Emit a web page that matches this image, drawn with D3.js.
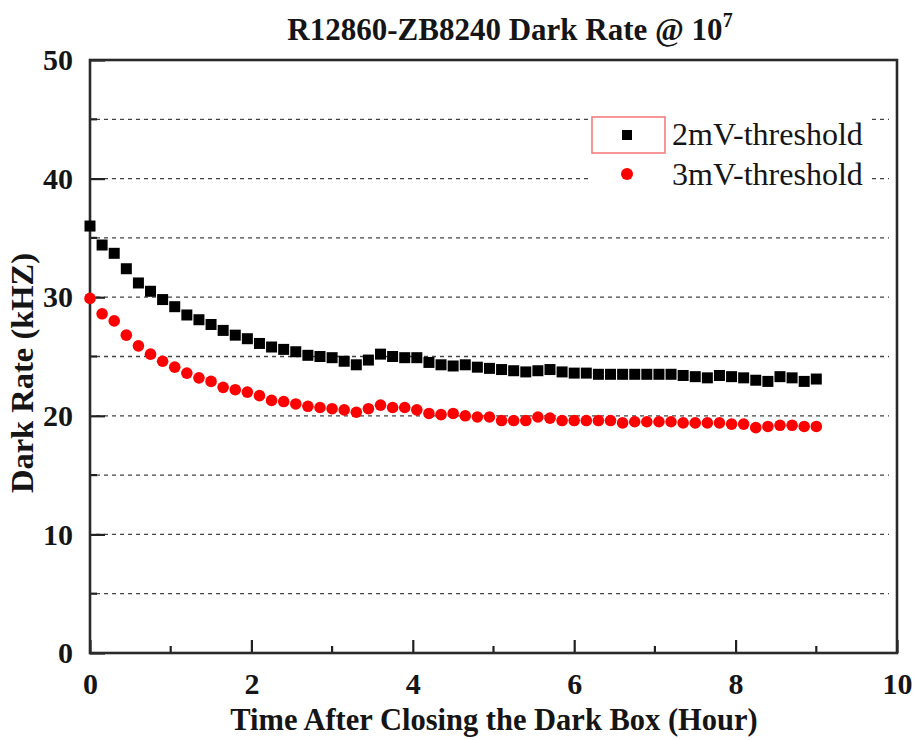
<!DOCTYPE html>
<html>
<head>
<meta charset="utf-8">
<script src="https://cdn.jsdelivr.net/npm/d3@7"></script>
<style>
  body { margin: 0; background: #fff; }
  svg { display: block; }
</style>
</head>
<body>
<div id="chart"></div>
<script>
// time after closing the box, hours
var hours = [0.00, 0.15, 0.30, 0.45, 0.60, 0.75, 0.90, 1.05, 1.20, 1.35,
  1.50, 1.65, 1.80, 1.95, 2.10, 2.25, 2.40, 2.55, 2.70, 2.85,
  3.00, 3.15, 3.30, 3.45, 3.60, 3.75, 3.90, 4.05, 4.20, 4.35,
  4.50, 4.65, 4.80, 4.95, 5.10, 5.25, 5.40, 5.55, 5.70, 5.85,
  6.00, 6.15, 6.30, 6.45, 6.60, 6.75, 6.90, 7.05, 7.20, 7.35,
  7.50, 7.65, 7.80, 7.95, 8.10, 8.25, 8.40, 8.55, 8.70, 8.85, 9.00];

var rate2mV = [36.0, 34.4, 33.7, 32.4, 31.2, 30.5, 29.8, 29.2, 28.5, 28.1,
  27.7, 27.2, 26.8, 26.5, 26.1, 25.8, 25.6, 25.4, 25.1, 25.0,
  24.9, 24.6, 24.3, 24.7, 25.2, 25.0, 24.9, 24.9, 24.5, 24.3,
  24.2, 24.3, 24.1, 24.0, 23.9, 23.8, 23.7, 23.8, 23.9, 23.7,
  23.6, 23.6, 23.5, 23.5, 23.5, 23.5, 23.5, 23.5, 23.5, 23.4,
  23.3, 23.2, 23.4, 23.3, 23.2, 23.0, 22.9, 23.3, 23.2, 22.9, 23.1];

var rate3mV = [29.9, 28.6, 28.0, 26.8, 25.9, 25.2, 24.6, 24.1, 23.6, 23.2,
  22.9, 22.4, 22.2, 22.0, 21.7, 21.3, 21.2, 21.0, 20.8, 20.7,
  20.6, 20.5, 20.3, 20.6, 20.9, 20.7, 20.7, 20.5, 20.2, 20.1,
  20.2, 20.0, 19.9, 19.9, 19.6, 19.6, 19.6, 19.9, 19.8, 19.6,
  19.6, 19.6, 19.6, 19.6, 19.4, 19.5, 19.5, 19.5, 19.5, 19.4,
  19.4, 19.4, 19.4, 19.3, 19.3, 19.0, 19.1, 19.2, 19.2, 19.1, 19.1];

var xTicks = [0, 2, 4, 6, 8, 10];
var yTicks = [0, 10, 20, 30, 40, 50];
var gridLevels = [5, 10, 15, 20, 25, 30, 35, 40, 45];
var legendNames = ["2mV-threshold", "3mV-threshold"];

var W = 917, H = 740;
var serif = "'Liberation Serif', 'DejaVu Serif', serif";
var ink = "#151515";

var svg = d3.select("#chart").append("svg")
  .attr("width", W)
  .attr("height", H);

var x = d3.scaleLinear().domain([0, 10]).range([90, 897]);
var y = d3.scaleLinear().domain([0, 50]).range([653, 60]);

// dashed grid
svg.append("g")
  .selectAll("line")
  .data(gridLevels)
  .join("line")
  .attr("x1", x(0) + 6)
  .attr("x2", x(10) - 8)
  .attr("y1", d => y(d))
  .attr("y2", d => y(d))
  .attr("stroke", "#444")
  .attr("stroke-width", 1.3)
  .attr("stroke-dasharray", "4,4");

// axes with inward ticks
var xAxis = d3.axisBottom(x).tickValues(xTicks).tickSize(-13).tickPadding(20).tickFormat(d3.format("d"));
var yAxis = d3.axisLeft(y).tickValues(yTicks).tickSize(-15).tickPadding(17).tickFormat(d3.format("d"));

var gx = svg.append("g").attr("transform", "translate(0," + y(0) + ")").call(xAxis);
var gy = svg.append("g").attr("transform", "translate(" + x(0) + ",0)").call(yAxis);

[gx, gy].forEach(function (g) {
  g.select(".domain").remove();
  g.selectAll(".tick line").attr("stroke", "#222").attr("stroke-width", 2.2);
  g.selectAll("text")
    .attr("fill", ink)
    .style("font-family", serif)
    .style("font-weight", "bold")
    .style("font-size", "30px");
});
gx.selectAll("text").attr("dy", "0.71em");

// minor ticks
svg.append("g")
  .selectAll("line")
  .data([1, 3, 5, 7, 9])
  .join("line")
  .attr("x1", d => x(d)).attr("x2", d => x(d))
  .attr("y1", y(0)).attr("y2", y(0) - 7)
  .attr("stroke", "#222").attr("stroke-width", 2.2);

svg.append("g")
  .selectAll("line")
  .data([5, 15, 25, 35, 45])
  .join("line")
  .attr("x1", x(0)).attr("x2", x(0) + 7)
  .attr("y1", d => y(d)).attr("y2", d => y(d))
  .attr("stroke", "#222").attr("stroke-width", 2.2);

// frame
svg.append("rect")
  .attr("x", x(0))
  .attr("y", y(50))
  .attr("width", x(10) - x(0))
  .attr("height", y(0) - y(50))
  .attr("fill", "none")
  .attr("stroke", "#2a2a2a")
  .attr("stroke-width", 2.6);

// series
var pts2 = hours.map((h, i) => [h, rate2mV[i]]);
var pts3 = hours.map((h, i) => [h, rate3mV[i]]);

svg.append("g")
  .selectAll("rect")
  .data(pts2)
  .join("rect")
  .attr("x", d => x(d[0]) - 5.5)
  .attr("y", d => y(d[1]) - 5.5)
  .attr("width", 11)
  .attr("height", 11)
  .attr("fill", "#000");

svg.append("g")
  .selectAll("circle")
  .data(pts3)
  .join("circle")
  .attr("cx", d => x(d[0]))
  .attr("cy", d => y(d[1]))
  .attr("r", 5.8)
  .attr("fill", "#ff0000");

// legend (white backing hides the grid behind it)
var lg = svg.append("g");
lg.append("rect")
  .attr("x", 588).attr("y", 113)
  .attr("width", 282).attr("height", 80)
  .attr("fill", "#fff");
lg.append("rect")
  .attr("x", 592).attr("y", 117)
  .attr("width", 73).attr("height", 36)
  .attr("fill", "none")
  .attr("stroke", "#f47c7c")
  .attr("stroke-width", 1.6);
lg.append("rect")
  .attr("x", 622).attr("y", 130)
  .attr("width", 10).attr("height", 10)
  .attr("fill", "#000");
lg.append("circle")
  .attr("cx", 627).attr("cy", 174)
  .attr("r", 6)
  .attr("fill", "#ff0000");
lg.selectAll("text")
  .data(legendNames)
  .join("text")
  .attr("x", 672)
  .attr("y", (d, i) => 145 + i * 40)
  .attr("fill", ink)
  .style("font-family", serif)
  .style("font-size", "32px")
  .text(d => d);

// title
var title = svg.append("text")
  .attr("x", 510)
  .attr("y", 40)
  .attr("text-anchor", "middle")
  .attr("fill", ink)
  .style("font-family", serif)
  .style("font-weight", "bold")
  .style("font-size", "31px");
title.append("tspan").text("R12860-ZB8240 Dark Rate @ 10");
title.append("tspan").attr("dy", -13).style("font-size", "20px").text("7");

// axis titles
svg.append("text")
  .attr("x", 494)
  .attr("y", 730)
  .attr("text-anchor", "middle")
  .attr("fill", ink)
  .style("font-family", serif)
  .style("font-weight", "bold")
  .style("font-size", "30.5px")
  .text("Time After Closing the Dark Box (Hour)");

svg.append("text")
  .attr("transform", "translate(33,373) rotate(-90)")
  .attr("text-anchor", "middle")
  .attr("fill", ink)
  .style("font-family", serif)
  .style("font-weight", "bold")
  .style("font-size", "32.5px")
  .text("Dark Rate (kHZ)");
</script>
</body>
</html>
